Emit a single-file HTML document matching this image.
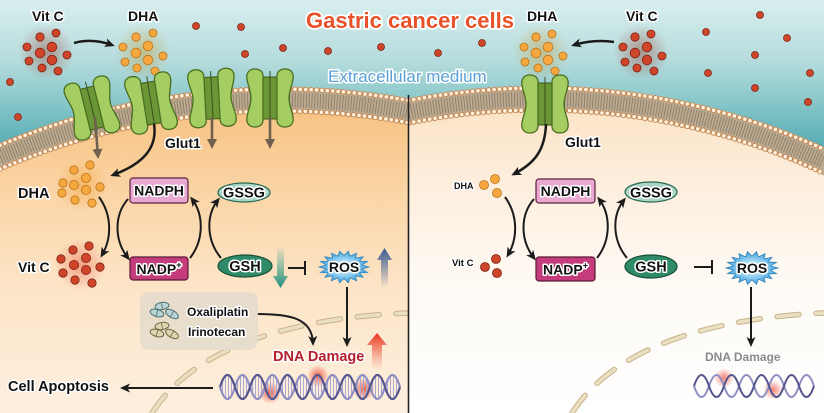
<!DOCTYPE html>
<html><head><meta charset="utf-8">
<style>
html,body{margin:0;padding:0;background:#fff;width:824px;height:413px;overflow:hidden;}
svg{display:block;}
text{font-family:"Liberation Sans",Arial,sans-serif;}
.b{font-weight:bold;paint-order:stroke;stroke:#fff;stroke-width:3;stroke-linejoin:round;fill:#111;}
</style></head><body>
<svg width="824" height="413" viewBox="0 0 824 413" xmlns="http://www.w3.org/2000/svg">
<defs>
  <linearGradient id="sky" x1="0" y1="0" x2="0" y2="200" gradientUnits="userSpaceOnUse">
    <stop offset="0" stop-color="#d8eeee"/>
    <stop offset="0.3" stop-color="#b6dcdd"/>
    <stop offset="0.5" stop-color="#8ac8cb"/>
    <stop offset="0.7" stop-color="#5db1b7"/>
    <stop offset="1" stop-color="#3fa0a9"/>
  </linearGradient>
  <linearGradient id="cellL" x1="0" y1="85" x2="0" y2="413" gradientUnits="userSpaceOnUse">
    <stop offset="0" stop-color="#f7bd78"/>
    <stop offset="0.3" stop-color="#fad3a2"/>
    <stop offset="0.6" stop-color="#fde4c6"/>
    <stop offset="1" stop-color="#fdefdf"/>
  </linearGradient>
  <linearGradient id="cellR" x1="0" y1="85" x2="0" y2="413" gradientUnits="userSpaceOnUse">
    <stop offset="0" stop-color="#fbe0bf"/>
    <stop offset="0.3" stop-color="#fdeedd"/>
    <stop offset="0.6" stop-color="#fefaf4"/>
    <stop offset="1" stop-color="#ffffff"/>
  </linearGradient>
  <clipPath id="clipL"><rect x="0" y="0" width="408.5" height="413"/></clipPath>
  <clipPath id="clipR"><rect x="408.5" y="0" width="415.5" height="413"/></clipPath>
  <radialGradient id="haloR"><stop offset="0" stop-color="#9a4a3a" stop-opacity="0.5"/><stop offset="1" stop-color="#9a4a3a" stop-opacity="0"/></radialGradient>
  <radialGradient id="haloO"><stop offset="0" stop-color="#c39a35" stop-opacity="0.5"/><stop offset="1" stop-color="#c39a35" stop-opacity="0"/></radialGradient>
  <radialGradient id="haloO2"><stop offset="0" stop-color="#f59a30" stop-opacity="0.5"/><stop offset="1" stop-color="#f59a30" stop-opacity="0"/></radialGradient>
  <radialGradient id="haloR2"><stop offset="0" stop-color="#e8503a" stop-opacity="0.45"/><stop offset="1" stop-color="#e8503a" stop-opacity="0"/></radialGradient>
  <radialGradient id="glow"><stop offset="0" stop-color="#e8402a" stop-opacity="0.8"/><stop offset="1" stop-color="#e8402a" stop-opacity="0"/></radialGradient>
  <radialGradient id="ros"><stop offset="0" stop-color="#e0f3fc"/><stop offset="0.55" stop-color="#92d0f0"/><stop offset="1" stop-color="#3d9bd8"/></radialGradient>
  <linearGradient id="gTeal" x1="0" y1="0" x2="0" y2="1"><stop offset="0" stop-color="#2a9a85" stop-opacity="0.05"/><stop offset="1" stop-color="#22917d" stop-opacity="1"/></linearGradient>
  <linearGradient id="gBlue" x1="0" y1="0" x2="0" y2="1"><stop offset="0" stop-color="#3a5a96" stop-opacity="1"/><stop offset="1" stop-color="#3a5a96" stop-opacity="0"/></linearGradient>
  <linearGradient id="gRed" x1="0" y1="0" x2="0" y2="1"><stop offset="0" stop-color="#e8301c" stop-opacity="1"/><stop offset="1" stop-color="#f07050" stop-opacity="0"/></linearGradient>
  <pattern id="rung" width="3" height="10" patternUnits="userSpaceOnUse"><rect width="1" height="10" fill="#a9a9d2"/></pattern>
  <marker id="ah" viewBox="0 0 10 10" refX="7" refY="5" markerWidth="10" markerHeight="10" markerUnits="userSpaceOnUse" orient="auto">
    <path d="M0,0.5 L10,5 L0,9.5 L2.5,5 Z" fill="#1b1b1b"/>
  </marker>
  <marker id="ahg" viewBox="0 0 10 10" refX="7" refY="5" markerWidth="10" markerHeight="10" markerUnits="userSpaceOnUse" orient="auto">
    <path d="M0,0 L10,5 L0,10 Z" fill="#6f6050"/>
  </marker>
  <g id="gl">
    <rect x="-8" y="-21" width="16" height="42" fill="#6a9636" stroke="#3a5a15" stroke-width="1"/>
    <path d="M -7,-22 C -7,-27 -11,-29 -15,-29 C -21,-29 -24,-25 -23,-19 C -22,-12 -19,-7 -19,0 C -19,7 -22,12 -23,19 C -24,25 -21,29 -15,29 C -11,29 -7,27 -7,22 Z" fill="#a4cd62" stroke="#4a6e20" stroke-width="1.3"/>
    <path transform="scale(-1,1)" d="M -7,-22 C -7,-27 -11,-29 -15,-29 C -21,-29 -24,-25 -23,-19 C -22,-12 -19,-7 -19,0 C -19,7 -22,12 -23,19 C -24,25 -21,29 -15,29 C -11,29 -7,27 -7,22 Z" fill="#a4cd62" stroke="#4a6e20" stroke-width="1.3"/>
    <line x1="0" y1="-27" x2="0" y2="21" stroke="#3e4e22" stroke-width="1"/>
  </g>
  <g id="pillA"><ellipse rx="7" ry="3.6" fill="#b8d4d4" stroke="#4d6e6e" stroke-width="1"/><line x1="0" y1="-3.4" x2="0" y2="3.4" stroke="#4d6e6e" stroke-width="0.8"/></g>
  <g id="pillB"><ellipse rx="7" ry="3.6" fill="#dcd6b0" stroke="#6e6842" stroke-width="1"/><line x1="0" y1="-3.4" x2="0" y2="3.4" stroke="#6e6842" stroke-width="0.8"/></g>
</defs>

<!-- background -->
<rect width="824" height="413" fill="url(#sky)"/>

<!-- left cell -->
<g clip-path="url(#clipL)">
  <path d="M0,143 A728 728 0 0 1 408.5,98.4 L408.5,413 L0,413 Z" fill="url(#cellL)"/>
  <path d="M152,413 C193,348 290,318 408,313" fill="none" stroke="#c8b28a" stroke-width="5.5" stroke-dasharray="22 17" stroke-linecap="round"/>
  <path d="M152,413 C193,348 290,318 408,313" fill="none" stroke="#ebdfc2" stroke-width="3.5" stroke-dasharray="22 17" stroke-linecap="round"/>
  <path d="M0,143 A728 728 0 0 1 408.5,98.4 L408.5,124.9 A702 702 0 0 0 0,171.3 Z" fill="#bcab93"/>
  <path d="M0,157.1 A715 715 0 0 1 408.5,111.6" fill="none" stroke="#92806a" stroke-width="15" stroke-dasharray="1 1.8"/>
  <path d="M0,145.2 A726 726 0 0 1 408.5,100.5" fill="none" stroke="#c8844a" stroke-width="5.4" stroke-dasharray="0 5.4" stroke-linecap="round"/>
  <path d="M0,145.2 A726 726 0 0 1 408.5,100.5" fill="none" stroke="#fff3e4" stroke-width="3.6" stroke-dasharray="0 5.4" stroke-linecap="round"/>
  <path d="M0,169.1 A704 704 0 0 1 408.5,122.8" fill="none" stroke="#c8844a" stroke-width="5.4" stroke-dasharray="0 5.4" stroke-linecap="round"/>
  <path d="M0,169.1 A704 704 0 0 1 408.5,122.8" fill="none" stroke="#fff3e4" stroke-width="3.6" stroke-dasharray="0 5.4" stroke-linecap="round"/>
</g>

<!-- right cell -->
<g clip-path="url(#clipR)">
  <path d="M408.5,98.6 A692 692 0 0 1 824,147 L824,413 L408.5,413 Z" fill="url(#cellR)"/>
  <path d="M572,413 C613,348 710,318 824,313" fill="none" stroke="#c8b28a" stroke-width="5.5" stroke-dasharray="22 17" stroke-linecap="round"/>
  <path d="M572,413 C613,348 710,318 824,313" fill="none" stroke="#ebdfc2" stroke-width="3.5" stroke-dasharray="22 17" stroke-linecap="round"/>
  <path d="M408.5,98.6 A692 692 0 0 1 824,147 L824,175.6 A666 666 0 0 0 408.5,125.1 Z" fill="#bcab93"/>
  <path d="M408.5,111.9 A679 679 0 0 1 824,161.3" fill="none" stroke="#92806a" stroke-width="15" stroke-dasharray="1 1.8"/>
  <path d="M408.5,100.6 A690 690 0 0 1 824,149.2" fill="none" stroke="#c8844a" stroke-width="5.4" stroke-dasharray="0 5.4" stroke-linecap="round"/>
  <path d="M408.5,100.6 A690 690 0 0 1 824,149.2" fill="none" stroke="#fff3e4" stroke-width="3.6" stroke-dasharray="0 5.4" stroke-linecap="round"/>
  <path d="M408.5,123.1 A668 668 0 0 1 824,173.4" fill="none" stroke="#c8844a" stroke-width="5.4" stroke-dasharray="0 5.4" stroke-linecap="round"/>
  <path d="M408.5,123.1 A668 668 0 0 1 824,173.4" fill="none" stroke="#fff3e4" stroke-width="3.6" stroke-dasharray="0 5.4" stroke-linecap="round"/>
</g>

<!-- divider -->
<line x1="408.5" y1="95" x2="408.5" y2="413" stroke="#222" stroke-width="1.6"/>

<!-- title -->
<text x="410" y="28" text-anchor="middle" font-size="22" font-weight="bold" fill="#e8522a" stroke="#fff" stroke-width="3.5" paint-order="stroke" stroke-linejoin="round">Gastric cancer cells</text>
<text x="328" y="82" font-size="17" fill="#5a9fd6" stroke="#fff" stroke-width="3" paint-order="stroke" stroke-linejoin="round">Extracellular medium</text>

<!-- halos -->
<circle cx="46" cy="52" r="28" fill="url(#haloR)"/>
<circle cx="143" cy="52" r="28" fill="url(#haloO)"/>
<circle cx="541" cy="52" r="28" fill="url(#haloO)"/>
<circle cx="641" cy="52" r="28" fill="url(#haloR)"/>
<circle cx="82" cy="185" r="26" fill="url(#haloO2)"/>
<circle cx="80" cy="265" r="26" fill="url(#haloR2)"/>

<!-- red dots -->
<g fill="#d0442a" stroke="#7a2615" stroke-width="0.8">
  <circle cx="40" cy="37" r="4.2"/><circle cx="56" cy="33" r="4"/><circle cx="27" cy="47" r="4"/><circle cx="52" cy="47" r="4.8"/><circle cx="40" cy="53" r="4.8"/><circle cx="67" cy="55" r="4"/><circle cx="52" cy="60" r="4.8"/><circle cx="29" cy="61" r="4"/><circle cx="42" cy="68" r="4"/><circle cx="58" cy="71" r="4"/>
  <circle cx="635" cy="37" r="4.2"/><circle cx="651" cy="34" r="4"/><circle cx="623" cy="47" r="4"/><circle cx="647" cy="47" r="4.8"/><circle cx="635" cy="53" r="4.8"/><circle cx="662" cy="56" r="4"/><circle cx="647" cy="60" r="4.8"/><circle cx="625" cy="62" r="4"/><circle cx="637" cy="68" r="4"/><circle cx="654" cy="71" r="4"/>
  <circle cx="196" cy="26" r="3.5"/><circle cx="241" cy="27" r="3.5"/><circle cx="245" cy="54" r="3.5"/><circle cx="283" cy="48" r="3.5"/><circle cx="328" cy="51" r="3.5"/><circle cx="381" cy="47" r="3.5"/><circle cx="10" cy="82" r="3.5"/><circle cx="18" cy="117" r="3.5"/>
  <circle cx="482" cy="43" r="3.5"/><circle cx="438" cy="53" r="3.5"/><circle cx="760" cy="15" r="3.5"/><circle cx="706" cy="32" r="3.5"/><circle cx="787" cy="38" r="3.5"/><circle cx="755" cy="55" r="3.5"/><circle cx="708" cy="73" r="3.5"/><circle cx="810" cy="73" r="3.5"/><circle cx="755" cy="88" r="3.5"/><circle cx="808" cy="102" r="3.5"/>
  <circle cx="73" cy="250" r="4.2"/><circle cx="89" cy="246" r="4.2"/><circle cx="61" cy="259" r="4.2"/><circle cx="74" cy="265" r="4.6"/><circle cx="86" cy="258" r="4.6"/><circle cx="100" cy="267" r="4.2"/><circle cx="63" cy="273" r="4.2"/><circle cx="86" cy="270" r="4.6"/><circle cx="75" cy="280" r="4.2"/><circle cx="92" cy="283" r="4.2"/>
  <circle cx="485" cy="267" r="4.5"/><circle cx="496" cy="259" r="4.5"/><circle cx="497" cy="273" r="4.5"/>
</g>
<!-- orange dots -->
<g fill="#f6a83e" stroke="#b8741c" stroke-width="0.8">
  <circle cx="136" cy="37" r="4.2"/><circle cx="153" cy="33" r="4"/><circle cx="123" cy="47" r="4"/><circle cx="148" cy="46" r="4.8"/><circle cx="136" cy="53" r="4.8"/><circle cx="163" cy="56" r="4"/><circle cx="148" cy="60" r="4.8"/><circle cx="125" cy="62" r="4"/><circle cx="137" cy="68" r="4"/><circle cx="155" cy="71" r="4"/>
  <circle cx="536" cy="37" r="4.2"/><circle cx="552" cy="34" r="4"/><circle cx="524" cy="47" r="4"/><circle cx="548" cy="47" r="4.8"/><circle cx="536" cy="53" r="4.8"/><circle cx="563" cy="56" r="4"/><circle cx="548" cy="60" r="4.8"/><circle cx="525" cy="62" r="4"/><circle cx="538" cy="68" r="4"/><circle cx="555" cy="71" r="4"/>
  <circle cx="90" cy="165" r="4.2"/><circle cx="74" cy="170" r="4.2"/><circle cx="86" cy="178" r="4.6"/><circle cx="63" cy="183" r="4.2"/><circle cx="74" cy="185" r="4.6"/><circle cx="86" cy="190" r="4.6"/><circle cx="100" cy="187" r="4.2"/><circle cx="62" cy="193" r="4.2"/><circle cx="75" cy="200" r="4.2"/><circle cx="92" cy="203" r="4.2"/>
  <circle cx="484" cy="185" r="4.5"/><circle cx="495" cy="179" r="4.5"/><circle cx="497" cy="193" r="4.5"/>
</g>

<!-- top arrows -->
<path d="M74,43 Q92,38 112,45" fill="none" stroke="#1b1b1b" stroke-width="2.5" marker-end="url(#ah)"/>
<path d="M614,42 Q594,39 574,45" fill="none" stroke="#1b1b1b" stroke-width="2.5" marker-end="url(#ah)"/>

<!-- transporters -->
<use href="#gl" transform="translate(92,108) rotate(-14)"/>
<use href="#gl" transform="translate(151,103) rotate(-9)"/>
<use href="#gl" transform="translate(212,98) rotate(-3)"/>
<use href="#gl" transform="translate(270,98)"/>
<use href="#gl" transform="translate(545,104)"/>

<!-- gray arrows -->
<g stroke="#6f6050" stroke-width="2.6" fill="none">
  <path d="M95,118 L98,156" marker-end="url(#ahg)"/>
  <path d="M212,118 L212,146" marker-end="url(#ahg)"/>
  <path d="M270,118 L270,146" marker-end="url(#ahg)"/>
</g>

<!-- Glut1 curved arrows -->
<path d="M154,124 C158,150 140,165 113,175" fill="none" stroke="#1b1b1b" stroke-width="2.5" marker-end="url(#ah)"/>
<path d="M546,124 C545,150 535,163 514,174" fill="none" stroke="#1b1b1b" stroke-width="2.5" marker-end="url(#ah)"/>

<!-- cycle arrows -->
<g fill="none" stroke="#1b1b1b" stroke-width="2" marker-end="url(#ah)">
  <path d="M99,197 C112,215 112,238 102,255"/>
  <path d="M128,199 C114,215 114,240 128,258"/>
  <path d="M190,258 C204,240 204,215 192,199"/>
  <path d="M221,258 C206,240 206,215 218,200"/>
  <path d="M505,197 C518,215 518,238 508,255"/>
  <path d="M534,199 C520,215 520,240 534,258"/>
  <path d="M597,258 C611,240 611,215 599,199"/>
  <path d="M627,258 C612,240 612,215 624,200"/>
  <path d="M347,287 L347,344"/>
  <path d="M751,287 L751,344"/>
  <path d="M257,314 C290,314 312,318 313,343"/>
  <path d="M213,388 L123,388"/>
</g>

<!-- inhibition -->
<g stroke="#1b1b1b" stroke-width="2">
  <line x1="288" y1="268" x2="305" y2="268"/><line x1="305" y1="261" x2="305" y2="275"/>
  <line x1="694" y1="267" x2="712" y2="267"/><line x1="712" y1="260" x2="712" y2="274"/>
</g>

<!-- boxes -->
<rect x="130" y="178" width="58" height="25" rx="3" fill="#e8a8d0" stroke="#5a2040" stroke-width="1.2"/>
<rect x="130" y="257" width="58" height="23" rx="3" fill="#c43c7c" stroke="#5a1838" stroke-width="1.2"/>
<ellipse cx="244" cy="192.5" rx="26" ry="9.5" fill="#a8d8c5" stroke="#2a6a50" stroke-width="1.2"/>
<ellipse cx="245" cy="266" rx="27" ry="11" fill="#2f8a68" stroke="#1a5038" stroke-width="1.2"/>
<rect x="536" y="179" width="59" height="24" rx="3" fill="#e8a8d0" stroke="#5a2040" stroke-width="1.2"/>
<rect x="536" y="257" width="59" height="24" rx="3" fill="#c43c7c" stroke="#5a1838" stroke-width="1.2"/>
<ellipse cx="651" cy="192" rx="26" ry="10" fill="#a8d8c5" stroke="#2a6a50" stroke-width="1.2"/>
<ellipse cx="651" cy="266.5" rx="26" ry="11.5" fill="#2f8a68" stroke="#1a5038" stroke-width="1.2"/>

<!-- ROS -->
<polygon transform="translate(344,267) scale(25,16)" vector-effect="non-scaling-stroke" fill="url(#ros)" stroke="#2f86c0" stroke-width="0.8" points="1,0 0.709,0.125 0.94,0.342 0.624,0.36 0.766,0.643 0.463,0.552 0.5,0.866 0.246,0.677 0.174,0.985 0,0.72 -0.174,0.985 -0.246,0.677 -0.5,0.866 -0.463,0.552 -0.766,0.643 -0.624,0.36 -0.94,0.342 -0.709,0.125 -1,0 -0.709,-0.125 -0.94,-0.342 -0.624,-0.36 -0.766,-0.643 -0.463,-0.552 -0.5,-0.866 -0.246,-0.677 -0.174,-0.985 0,-0.72 0.174,-0.985 0.246,-0.677 0.5,-0.866 0.463,-0.552 0.766,-0.643 0.624,-0.36 0.94,-0.342 0.709,-0.125"/>
<polygon transform="translate(752,268) scale(26,16.5)" vector-effect="non-scaling-stroke" fill="url(#ros)" stroke="#2f86c0" stroke-width="0.8" points="1,0 0.709,0.125 0.94,0.342 0.624,0.36 0.766,0.643 0.463,0.552 0.5,0.866 0.246,0.677 0.174,0.985 0,0.72 -0.174,0.985 -0.246,0.677 -0.5,0.866 -0.463,0.552 -0.766,0.643 -0.624,0.36 -0.94,0.342 -0.709,0.125 -1,0 -0.709,-0.125 -0.94,-0.342 -0.624,-0.36 -0.766,-0.643 -0.463,-0.552 -0.5,-0.866 -0.246,-0.677 -0.174,-0.985 0,-0.72 0.174,-0.985 0.246,-0.677 0.5,-0.866 0.463,-0.552 0.766,-0.643 0.624,-0.36 0.94,-0.342 0.709,-0.125"/>

<!-- gradient arrows -->
<path d="M277,248 H284 V276 H288 L280.5,288 L273,276 H277 Z" fill="url(#gTeal)"/>
<path d="M381,288 V260 H377 L384.5,248 L392,260 H388 V288 Z" fill="url(#gBlue)"/>
<path d="M372,370 V345 H367 L377,333 L387,345 H382 V370 Z" fill="url(#gRed)"/>

<!-- drug box -->
<rect x="140" y="292" width="118" height="58" rx="9" fill="#e6dccc" opacity="0.92"/>
<use href="#pillA" transform="translate(162,306) rotate(-8)"/>
<use href="#pillA" transform="translate(157,313) rotate(15)"/>
<use href="#pillA" transform="translate(172,314) rotate(30)"/>
<use href="#pillB" transform="translate(162,326) rotate(-8)"/>
<use href="#pillB" transform="translate(157,333) rotate(15)"/>
<use href="#pillB" transform="translate(172,334) rotate(30)"/>

<!-- DNA left -->
<circle cx="270" cy="393" r="11" fill="url(#glow)"/>
<circle cx="318" cy="376" r="11" fill="url(#glow)"/>
<circle cx="364" cy="389" r="11" fill="url(#glow)"/>
<path d="M220,387 q7.5,-24 15,0 t15,0 t15,0 t15,0 t15,0 t15,0 t15,0 t15,0 t15,0 t15,0 t15,0 t15,0 q-7.5,-24 -15,0 t-15,0 t-15,0 t-15,0 t-15,0 t-15,0 t-15,0 t-15,0 t-15,0 t-15,0 t-15,0 t-15,0 Z" fill="url(#rung)"/>
<path d="M220,387 q7.5,24 15,0 t15,0 t15,0 t15,0 t15,0 t15,0 t15,0 t15,0 t15,0 t15,0 t15,0 t15,0" fill="none" stroke="#8f8fc4" stroke-width="2.2"/>
<path d="M220,387 q7.5,-24 15,0 t15,0 t15,0 t15,0 t15,0 t15,0 t15,0 t15,0 t15,0 t15,0 t15,0 t15,0" fill="none" stroke="#55558f" stroke-width="2.2"/>

<!-- DNA right -->
<circle cx="724" cy="378" r="10" fill="url(#glow)" opacity="0.8"/>
<circle cx="773" cy="390" r="10" fill="url(#glow)" opacity="0.8"/>
<path d="M694,386 q7.5,-22 15,0 t15,0 t15,0 t15,0 t15,0 t15,0 t15,0 t15,0 q-7.5,22 -15,0 t-15,0 t-15,0 t-15,0 t-15,0 t-15,0 t-15,0 t-15,0 Z" fill="url(#rung)"/>
<path d="M694,386 q7.5,22 15,0 t15,0 t15,0 t15,0 t15,0 t15,0 t15,0 t15,0" fill="none" stroke="#8f8fc4" stroke-width="2"/>
<path d="M694,386 q7.5,-22 15,0 t15,0 t15,0 t15,0 t15,0 t15,0 t15,0 t15,0" fill="none" stroke="#55558f" stroke-width="2"/>

<!-- labels -->
<text class="b" x="32" y="21" font-size="14">Vit C</text>
<text class="b" x="128" y="21" font-size="14">DHA</text>
<text class="b" x="527" y="21" font-size="14">DHA</text>
<text class="b" x="626" y="21" font-size="14">Vit C</text>
<text class="b" x="165" y="148" font-size="14">Glut1</text>
<text class="b" x="565" y="147" font-size="14">Glut1</text>
<text class="b" x="18" y="198" font-size="14.5">DHA</text>
<text class="b" x="18" y="272" font-size="14">Vit C</text>
<text class="b" x="159" y="195.5" font-size="14" text-anchor="middle">NADPH</text>
<text class="b" x="159" y="274" font-size="14" text-anchor="middle">NADP<tspan font-size="9" dy="-6">+</tspan></text>
<text class="b" x="244" y="197.5" font-size="14.5" text-anchor="middle">GSSG</text>
<text class="b" x="245" y="271" font-size="14.5" text-anchor="middle">GSH</text>
<text class="b" x="344" y="272" font-size="14" text-anchor="middle">ROS</text>
<text class="b" x="187" y="316" font-size="12">Oxaliplatin</text>
<text class="b" x="188" y="336" font-size="12">Irinotecan</text>
<text class="b" x="273" y="361" font-size="14.5" style="fill:#b4202e">DNA Damage</text>
<text class="b" x="8" y="391" font-size="14.5">Cell Apoptosis</text>
<text class="b" x="454" y="189" font-size="9">DHA</text>
<text class="b" x="452" y="266" font-size="9.5">Vit C</text>
<text class="b" x="565.5" y="196" font-size="14" text-anchor="middle">NADPH</text>
<text class="b" x="565.5" y="274.5" font-size="14" text-anchor="middle">NADP<tspan font-size="9" dy="-6">+</tspan></text>
<text class="b" x="651" y="197.5" font-size="14.5" text-anchor="middle">GSSG</text>
<text class="b" x="651" y="271.5" font-size="14.5" text-anchor="middle">GSH</text>
<text class="b" x="752" y="273" font-size="14" text-anchor="middle">ROS</text>
<text class="b" x="705" y="361" font-size="12" style="fill:#8a8a8a">DNA Damage</text>
</svg>
</body></html>
